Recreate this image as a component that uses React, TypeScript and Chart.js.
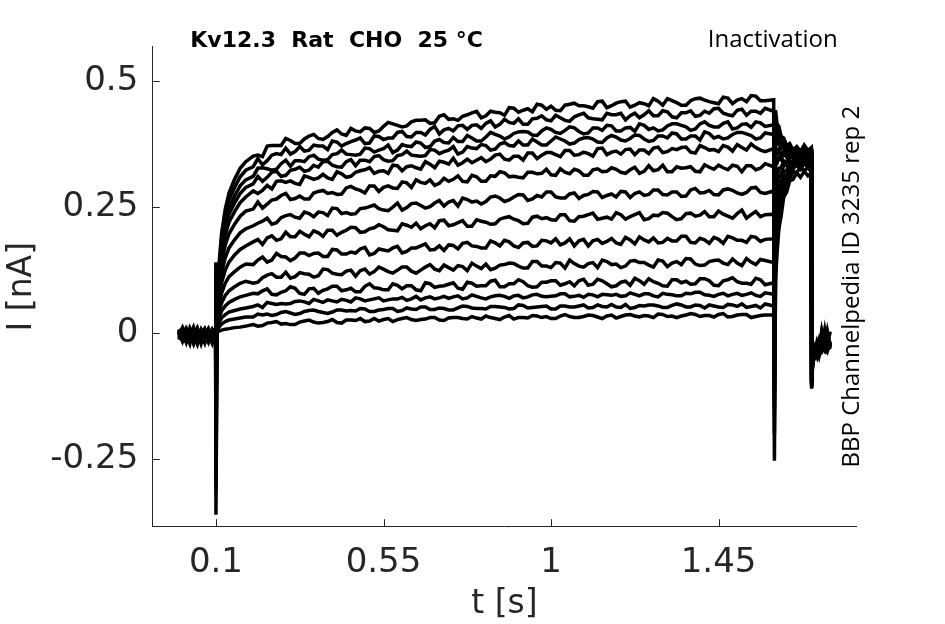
import React, { useEffect, useRef } from 'react';
import { Chart, registerables } from 'chart.js';

Chart.register(...registerables);

// sample times [s], shared by every sweep
const timeS = [
  0, 0.01, 0.02, 0.03, 0.04, 0.05, 0.06, 0.07, 0.08, 0.09, 0.099,
  0.1, 0.103, 0.108, 0.115, 0.125, 0.135, 0.15, 0.165, 0.18,
  0.2, 0.225, 0.25, 0.275, 0.3, 0.325, 0.35, 0.375, 0.4, 0.425, 0.45, 0.475, 0.5, 0.525,
  0.55, 0.575, 0.6, 0.625, 0.65, 0.675, 0.7, 0.725, 0.75, 0.775, 0.8, 0.825, 0.85, 0.875,
  0.9, 0.925, 0.95, 0.975, 1.0, 1.025, 1.05, 1.075, 1.1, 1.125, 1.15, 1.175, 1.2, 1.225,
  1.25, 1.275, 1.3, 1.325, 1.35, 1.375, 1.4, 1.425, 1.45, 1.475, 1.5, 1.525, 1.55, 1.575,
  1.598, 1.6, 1.603, 1.607, 1.612, 1.618, 1.625, 1.633, 1.641, 1.65, 1.66, 1.67, 1.68, 1.69, 1.699,
  1.7, 1.703, 1.708, 1.714, 1.72, 1.727, 1.735, 1.742, 1.75,
];

// extra samples between the plateau samples above
const midTimes = [
  0.2125, 0.2375, 0.2625, 0.2875, 0.3125, 0.3375, 0.3625, 0.3875, 0.4125, 0.4375, 0.4625,
  0.4875, 0.5125, 0.5375, 0.5625, 0.5875, 0.6125, 0.6375, 0.6625, 0.6875, 0.7125, 0.7375,
  0.7625, 0.7875, 0.8125, 0.8375, 0.8625, 0.8875, 0.9125, 0.9375, 0.9625, 0.9875, 1.0125,
  1.0375, 1.0625, 1.0875, 1.1125, 1.1375, 1.1625, 1.1875, 1.2125, 1.2375, 1.2625, 1.2875,
  1.3125, 1.3375, 1.3625, 1.3875, 1.4125, 1.4375, 1.4625, 1.4875, 1.5125, 1.5375, 1.5625,
];

// current [nA] per sweep
const sweep01 = [
  -0.004, 0.006, -0.014, 0.002, -0.019, 0.008, -0.009, -0.001, -0.016, 0.004, 0.002,
  -0.36, 0.002, 0.004, 0.006, 0.008, 0.009, 0.011, 0.012, 0.014,
  0.017, 0.015, 0.021, 0.018, 0.017, 0.022, 0.026, 0.02, 0.023, 0.021, 0.026, 0.025, 0.023, 0.029,
  0.027, 0.023, 0.029, 0.027, 0.027, 0.031, 0.026, 0.03, 0.031, 0.028, 0.03, 0.034, 0.029, 0.032,
  0.028, 0.031, 0.035, 0.031, 0.029, 0.034, 0.033, 0.031, 0.036, 0.032, 0.034, 0.03, 0.036, 0.034,
  0.035, 0.031, 0.037, 0.034, 0.034, 0.039, 0.033, 0.035, 0.037, 0.032, 0.036, 0.037, 0.033, 0.036,
  0.036, -0.253, 0.105, 0.158, 0.207, 0.232, 0.27, 0.28, 0.302, 0.305, 0.318, 0.309, 0.321, 0.312, 0.317,
  -0.108, -0.048, -0.03, -0.041, -0.022, -0.035, -0.018, -0.03, -0.02,
];
const sweep01Mid = [
  0.014, 0.02, 0.023, 0.019, 0.017, 0.024, 0.022, 0.021, 0.027, 0.02, 0.026, 0.029, 0.024, 0.024,
  0.029, 0.027, 0.031, 0.025, 0.028, 0.031, 0.025, 0.031, 0.029, 0.033, 0.028, 0.031, 0.027, 0.035,
  0.031, 0.03, 0.034, 0.033, 0.029, 0.037, 0.031, 0.033, 0.035, 0.029, 0.036, 0.033, 0.037, 0.032,
  0.034, 0.038, 0.033, 0.031, 0.036, 0.037, 0.035, 0.032, 0.039, 0.033, 0.037, 0.031, 0.035,
];
const sweep02 = [
  0.003, -0.012, 0.009, -0.006, -0.02, 0.001, 0.007, -0.015, -0.003, -0.011, -0.006,
  -0.31, 0.005, 0.012, 0.018, 0.023, 0.026, 0.028, 0.03, 0.032,
  0.032, 0.036, 0.035, 0.041, 0.04, 0.039, 0.045, 0.043, 0.039, 0.046, 0.044, 0.044, 0.048, 0.043,
  0.047, 0.049, 0.045, 0.048, 0.052, 0.047, 0.05, 0.046, 0.05, 0.053, 0.049, 0.048, 0.053, 0.051,
  0.049, 0.055, 0.051, 0.053, 0.048, 0.054, 0.052, 0.054, 0.05, 0.056, 0.052, 0.052, 0.057, 0.051,
  0.054, 0.056, 0.051, 0.055, 0.056, 0.052, 0.055, 0.056, 0.052, 0.057, 0.053, 0.051, 0.055, 0.058,
  0.054, -0.2, 0.12, 0.181, 0.213, 0.254, 0.272, 0.299, 0.305, 0.321, 0.318, 0.33, 0.322, 0.328, 0.32,
  -0.104, -0.04, -0.046, -0.02, -0.036, 0.002, -0.029, -0.022, -0.032,
];
const sweep02Mid = [
  0.038, 0.038, 0.037, 0.043, 0.037, 0.043, 0.046, 0.041, 0.042, 0.046, 0.045, 0.049, 0.043, 0.046,
  0.049, 0.043, 0.05, 0.047, 0.052, 0.047, 0.049, 0.046, 0.054, 0.05, 0.049, 0.053, 0.052, 0.048,
  0.056, 0.05, 0.052, 0.054, 0.048, 0.054, 0.052, 0.056, 0.051, 0.053, 0.057, 0.051, 0.049, 0.055,
  0.056, 0.054, 0.051, 0.058, 0.052, 0.056, 0.05, 0.054, 0.051, 0.056, 0.058, 0.053, 0.05,
];
const sweep03 = [
  -0.01, 0.001, -0.018, 0.01, -0.005, -0.022, 0.003, 0.006, -0.012, 0.0, 0.004,
  -0.24, 0.008, 0.02, 0.03, 0.037, 0.042, 0.045, 0.048, 0.05,
  0.053, 0.051, 0.059, 0.059, 0.059, 0.064, 0.059, 0.064, 0.066, 0.062, 0.065, 0.07, 0.064, 0.068,
  0.064, 0.068, 0.071, 0.068, 0.066, 0.072, 0.07, 0.069, 0.074, 0.07, 0.073, 0.068, 0.074, 0.073,
  0.074, 0.07, 0.076, 0.073, 0.073, 0.078, 0.072, 0.075, 0.077, 0.072, 0.076, 0.077, 0.074, 0.077,
  0.078, 0.074, 0.079, 0.076, 0.074, 0.078, 0.081, 0.075, 0.077, 0.074, 0.079, 0.077, 0.075, 0.08,
  0.077, -0.15, 0.138, 0.195, 0.226, 0.262, 0.281, 0.306, 0.311, 0.326, 0.334, 0.325, 0.337, 0.328, 0.333,
  -0.1, -0.052, -0.028, -0.038, -0.015, -0.031, -0.024, 0.001, -0.027,
];
const sweep03Mid = [
  0.056, 0.061, 0.057, 0.058, 0.063, 0.062, 0.067, 0.061, 0.064, 0.067, 0.062, 0.068, 0.066, 0.07,
  0.066, 0.068, 0.065, 0.073, 0.07, 0.068, 0.073, 0.072, 0.068, 0.076, 0.07, 0.072, 0.075, 0.069,
  0.075, 0.072, 0.077, 0.072, 0.074, 0.078, 0.073, 0.071, 0.076, 0.077, 0.075, 0.073, 0.08, 0.074,
  0.078, 0.072, 0.077, 0.074, 0.079, 0.081, 0.076, 0.073, 0.079, 0.077, 0.075, 0.08, 0.073,
];
const sweep04 = [
  0.002, -0.016, 0.005, -0.008, 0.011, -0.013, -0.004, -0.019, 0.004, -0.007, 0.006,
  -0.16, 0.012, 0.03, 0.044, 0.054, 0.061, 0.067, 0.072, 0.075,
  0.079, 0.084, 0.077, 0.081, 0.092, 0.079, 0.088, 0.079, 0.088, 0.093, 0.086, 0.082, 0.093, 0.09,
  0.086, 0.098, 0.088, 0.094, 0.084, 0.098, 0.093, 0.097, 0.089, 0.101, 0.093, 0.094, 0.105, 0.092,
  0.098, 0.102, 0.091, 0.101, 0.104, 0.095, 0.102, 0.104, 0.095, 0.107, 0.098, 0.094, 0.103, 0.109,
  0.097, 0.102, 0.094, 0.106, 0.1, 0.097, 0.108, 0.104, 0.094, 0.106, 0.102, 0.099, 0.109, 0.096,
  0.1, -0.12, 0.162, 0.202, 0.245, 0.266, 0.297, 0.305, 0.325, 0.331, 0.338, 0.33, 0.342, 0.333, 0.339,
  -0.097, -0.044, -0.039, -0.025, -0.042, -0.019, -0.027, -0.035, -0.016,
];
const sweep04Mid = [
  0.078, 0.088, 0.076, 0.084, 0.089, 0.077, 0.089, 0.085, 0.093, 0.084, 0.089, 0.082, 0.098, 0.089,
  0.086, 0.095, 0.094, 0.086, 0.1, 0.091, 0.094, 0.1, 0.087, 0.099, 0.094, 0.103, 0.092, 0.098,
  0.106, 0.094, 0.092, 0.101, 0.104, 0.098, 0.094, 0.107, 0.097, 0.104, 0.092, 0.101, 0.095, 0.104,
  0.108, 0.099, 0.093, 0.106, 0.103, 0.098, 0.108, 0.095, 0.104, 0.11, 0.099, 0.097, 0.106,
];
const sweep05 = [
  -0.007, 0.004, -0.002, -0.021, 0.009, -0.01, 0.002, -0.006, 0.008, -0.015, -0.012,
  -0.09, 0.016, 0.041, 0.06, 0.075, 0.084, 0.092, 0.099, 0.103,
  0.099, 0.11, 0.118, 0.111, 0.109, 0.12, 0.117, 0.114, 0.126, 0.117, 0.123, 0.113, 0.127, 0.122,
  0.127, 0.119, 0.131, 0.123, 0.125, 0.136, 0.124, 0.13, 0.134, 0.124, 0.133, 0.137, 0.129, 0.136,
  0.138, 0.129, 0.142, 0.133, 0.13, 0.139, 0.145, 0.133, 0.138, 0.13, 0.142, 0.137, 0.133, 0.144,
  0.14, 0.131, 0.143, 0.139, 0.136, 0.147, 0.134, 0.142, 0.145, 0.136, 0.139, 0.148, 0.136, 0.144,
  0.14, -0.07, 0.193, 0.226, 0.264, 0.281, 0.308, 0.314, 0.332, 0.337, 0.344, 0.335, 0.347, 0.338, 0.343,
  -0.095, -0.05, -0.031, -0.037, -0.016, -0.03, -0.021, 0.005, -0.026,
];
const sweep05Mid = [
  0.101, 0.115, 0.111, 0.121, 0.112, 0.118, 0.111, 0.127, 0.119, 0.116, 0.125, 0.124, 0.117, 0.131,
  0.122, 0.125, 0.131, 0.119, 0.131, 0.127, 0.135, 0.125, 0.132, 0.139, 0.128, 0.126, 0.135, 0.139,
  0.133, 0.129, 0.142, 0.133, 0.14, 0.129, 0.138, 0.131, 0.14, 0.145, 0.136, 0.13, 0.143, 0.14,
  0.135, 0.145, 0.132, 0.142, 0.148, 0.137, 0.135, 0.144, 0.139, 0.147, 0.134, 0.141, 0.146,
];
const sweep06 = [
  0.005, -0.009, -0.017, 0.003, -0.004, 0.01, -0.014, -0.002, -0.018, 0.005, -0.003,
  -0.03, 0.022, 0.054, 0.079, 0.099, 0.112, 0.122, 0.131, 0.137,
  0.136, 0.151, 0.145, 0.152, 0.144, 0.159, 0.154, 0.159, 0.152, 0.165, 0.157, 0.159, 0.17, 0.158,
  0.165, 0.169, 0.159, 0.169, 0.173, 0.165, 0.173, 0.175, 0.167, 0.18, 0.172, 0.169, 0.179, 0.184,
  0.173, 0.179, 0.172, 0.184, 0.179, 0.175, 0.187, 0.183, 0.173, 0.186, 0.182, 0.179, 0.19, 0.177,
  0.185, 0.189, 0.18, 0.183, 0.192, 0.18, 0.188, 0.178, 0.186, 0.192, 0.184, 0.18, 0.19, 0.186,
  0.187, -0.02, 0.229, 0.254, 0.285, 0.297, 0.32, 0.323, 0.339, 0.342, 0.349, 0.34, 0.352, 0.343, 0.348,
  -0.092, -0.045, -0.034, -0.02, -0.04, -0.025, -0.033, -0.014, -0.028,
];
const sweep06Mid = [
  0.145, 0.141, 0.158, 0.151, 0.149, 0.159, 0.158, 0.152, 0.166, 0.157, 0.161, 0.167, 0.155, 0.167,
  0.163, 0.172, 0.162, 0.169, 0.177, 0.166, 0.164, 0.174, 0.178, 0.173, 0.169, 0.183, 0.173, 0.181,
  0.17, 0.18, 0.173, 0.183, 0.187, 0.179, 0.173, 0.186, 0.183, 0.178, 0.188, 0.176, 0.185, 0.191,
  0.181, 0.179, 0.188, 0.183, 0.192, 0.179, 0.185, 0.19, 0.178, 0.189, 0.184, 0.192, 0.182,
];
const sweep07 = [
  -0.013, 0.001, 0.008, -0.011, 0.004, -0.019, -0.003, 0.009, -0.008, -0.001, -0.005,
  0.02, 0.027, 0.068, 0.1, 0.125, 0.141, 0.155, 0.166, 0.173,
  0.181, 0.176, 0.193, 0.187, 0.191, 0.202, 0.191, 0.199, 0.204, 0.194, 0.204, 0.209, 0.201, 0.209,
  0.211, 0.204, 0.217, 0.21, 0.207, 0.217, 0.223, 0.213, 0.219, 0.212, 0.225, 0.22, 0.217, 0.229,
  0.226, 0.217, 0.23, 0.227, 0.225, 0.235, 0.223, 0.231, 0.235, 0.226, 0.23, 0.239, 0.226, 0.235,
  0.225, 0.234, 0.239, 0.231, 0.227, 0.238, 0.234, 0.231, 0.242, 0.232, 0.237, 0.228, 0.241, 0.235,
  0.236, 0.03, 0.268, 0.283, 0.308, 0.315, 0.333, 0.333, 0.347, 0.35, 0.355, 0.346, 0.357, 0.348, 0.353,
  -0.09, -0.053, -0.03, -0.043, -0.018, -0.029, -0.036, -0.02, -0.031,
];
const sweep07Mid = [
  0.186, 0.189, 0.184, 0.2, 0.191, 0.196, 0.203, 0.192, 0.204, 0.2, 0.21, 0.2, 0.207, 0.215,
  0.205, 0.203, 0.214, 0.218, 0.213, 0.209, 0.224, 0.215, 0.223, 0.212, 0.222, 0.216, 0.226, 0.231,
  0.223, 0.218, 0.232, 0.229, 0.224, 0.235, 0.222, 0.232, 0.238, 0.228, 0.226, 0.235, 0.231, 0.239,
  0.227, 0.233, 0.238, 0.225, 0.237, 0.232, 0.241, 0.231, 0.236, 0.228, 0.244, 0.235, 0.231,
];
const sweep08 = [
  0.008, -0.006, -0.012, 0.005, -0.02, -0.001, 0.006, -0.014, 0.002, -0.009, -0.014,
  0.06, 0.033, 0.082, 0.12, 0.15, 0.169, 0.185, 0.199, 0.207,
  0.213, 0.222, 0.216, 0.229, 0.235, 0.228, 0.237, 0.24, 0.233, 0.247, 0.239, 0.237, 0.248, 0.254,
  0.244, 0.25, 0.244, 0.257, 0.253, 0.251, 0.263, 0.26, 0.252, 0.265, 0.262, 0.261, 0.272, 0.261,
  0.27, 0.274, 0.266, 0.27, 0.28, 0.268, 0.276, 0.267, 0.275, 0.28, 0.273, 0.27, 0.28, 0.277,
  0.273, 0.284, 0.275, 0.28, 0.271, 0.284, 0.278, 0.283, 0.274, 0.286, 0.278, 0.279, 0.289, 0.277,
  0.282, 0.08, 0.302, 0.309, 0.327, 0.328, 0.342, 0.339, 0.35, 0.351, 0.356, 0.345, 0.358, 0.349, 0.352,
  -0.094, -0.046, -0.038, -0.023, -0.033, 0.004, -0.028, -0.024, -0.019,
];
const sweep08Mid = [
  0.218, 0.228, 0.219, 0.233, 0.23, 0.24, 0.231, 0.239, 0.248, 0.237, 0.236, 0.247, 0.251, 0.247,
  0.243, 0.258, 0.249, 0.258, 0.248, 0.258, 0.252, 0.263, 0.268, 0.26, 0.256, 0.27, 0.268, 0.264,
  0.275, 0.263, 0.273, 0.28, 0.27, 0.268, 0.278, 0.273, 0.281, 0.269, 0.276, 0.281, 0.269, 0.28,
  0.275, 0.284, 0.274, 0.28, 0.272, 0.287, 0.279, 0.275, 0.284, 0.283, 0.275, 0.288, 0.279,
];
const sweep09 = [
  -0.002, 0.009, -0.011, -0.004, 0.003, -0.017, 0.007, -0.008, -0.013, 0.006, -0.01,
  0.1, 0.038, 0.095, 0.14, 0.175, 0.197, 0.216, 0.232, 0.242,
  0.246, 0.248, 0.264, 0.273, 0.265, 0.272, 0.266, 0.281, 0.277, 0.275, 0.288, 0.286, 0.278, 0.292,
  0.289, 0.288, 0.3, 0.289, 0.299, 0.304, 0.297, 0.301, 0.312, 0.3, 0.31, 0.301, 0.311, 0.318,
  0.311, 0.308, 0.319, 0.317, 0.314, 0.326, 0.316, 0.322, 0.313, 0.326, 0.321, 0.325, 0.317, 0.329,
  0.321, 0.322, 0.333, 0.32, 0.327, 0.33, 0.32, 0.329, 0.333, 0.324, 0.331, 0.332, 0.324, 0.336,
  0.33, 0.12, 0.338, 0.337, 0.349, 0.344, 0.356, 0.349, 0.359, 0.352, 0.361, 0.35, 0.36, 0.353, 0.358,
  -0.096, -0.043, -0.035, -0.029, -0.045, -0.021, -0.032, -0.017, -0.025,
];
const sweep09Mid = [
  0.26, 0.256, 0.266, 0.277, 0.267, 0.266, 0.278, 0.283, 0.279, 0.276, 0.291, 0.283, 0.292, 0.281,
  0.292, 0.287, 0.298, 0.304, 0.297, 0.293, 0.307, 0.305, 0.301, 0.313, 0.301, 0.312, 0.32, 0.31,
  0.309, 0.319, 0.316, 0.325, 0.313, 0.319, 0.325, 0.313, 0.324, 0.32, 0.328, 0.319, 0.324, 0.317,
  0.332, 0.324, 0.32, 0.33, 0.328, 0.321, 0.334, 0.325, 0.328, 0.333, 0.32, 0.332, 0.327,
];
const sweep10 = [
  0.004, -0.015, 0.002, 0.007, -0.009, 0.001, -0.021, 0.004, -0.005, 0.008, 0.001,
  0.14, 0.043, 0.107, 0.156, 0.195, 0.22, 0.241, 0.259, 0.27,
  0.282, 0.283, 0.286, 0.302, 0.302, 0.295, 0.309, 0.308, 0.308, 0.32, 0.309, 0.319, 0.324, 0.317,
  0.322, 0.333, 0.322, 0.332, 0.325, 0.335, 0.341, 0.335, 0.333, 0.345, 0.343, 0.34, 0.353, 0.345,
  0.351, 0.343, 0.357, 0.353, 0.358, 0.35, 0.362, 0.354, 0.356, 0.366, 0.354, 0.361, 0.364, 0.354,
  0.363, 0.367, 0.358, 0.366, 0.368, 0.359, 0.372, 0.363, 0.36, 0.369, 0.374, 0.363, 0.368, 0.36,
  0.366, 0.15, 0.367, 0.357, 0.364, 0.353, 0.361, 0.352, 0.36, 0.351, 0.359, 0.35, 0.362, 0.352, 0.357,
  -0.11, -0.05, -0.03, -0.039, -0.024, -0.034, -0.015, -0.029, -0.022,
];
const sweep10Mid = [
  0.277, 0.293, 0.301, 0.299, 0.297, 0.312, 0.305, 0.315, 0.305, 0.316, 0.311, 0.322, 0.328, 0.321,
  0.317, 0.332, 0.33, 0.328, 0.34, 0.328, 0.339, 0.347, 0.338, 0.338, 0.348, 0.345, 0.355, 0.343,
  0.351, 0.357, 0.346, 0.358, 0.354, 0.362, 0.353, 0.359, 0.351, 0.367, 0.359, 0.355, 0.365, 0.363,
  0.356, 0.369, 0.36, 0.364, 0.369, 0.357, 0.368, 0.364, 0.372, 0.361, 0.368, 0.375, 0.363,
];
const sweep11 = [
  -0.009, 0.003, 0.01, -0.014, 0.0, -0.006, 0.005, -0.018, 0.006, -0.011, -0.006,
  0.1, 0.046, 0.114, 0.167, 0.209, 0.236, 0.258, 0.277, 0.289,
  0.296, 0.301, 0.319, 0.311, 0.323, 0.329, 0.323, 0.329, 0.341, 0.33, 0.34, 0.332, 0.343, 0.35,
  0.344, 0.342, 0.354, 0.353, 0.351, 0.364, 0.356, 0.363, 0.355, 0.37, 0.366, 0.372, 0.365, 0.378,
  0.371, 0.373, 0.385, 0.373, 0.381, 0.385, 0.375, 0.384, 0.388, 0.379, 0.387, 0.389, 0.381, 0.393,
  0.385, 0.382, 0.391, 0.397, 0.385, 0.391, 0.383, 0.396, 0.39, 0.387, 0.398, 0.395, 0.385, 0.397,
  0.394, 0.16, 0.389, 0.375, 0.378, 0.366, 0.37, 0.359, 0.367, 0.357, 0.364, 0.355, 0.366, 0.356, 0.362,
  -0.1, -0.044, -0.037, -0.021, -0.04, -0.028, 0.006, -0.03, -0.023,
];
const sweep11Mid = [
  0.311, 0.309, 0.321, 0.313, 0.325, 0.321, 0.333, 0.34, 0.333, 0.329, 0.344, 0.343, 0.34, 0.352,
  0.341, 0.352, 0.361, 0.352, 0.352, 0.363, 0.36, 0.37, 0.359, 0.367, 0.374, 0.363, 0.375, 0.372,
  0.381, 0.373, 0.379, 0.373, 0.389, 0.381, 0.377, 0.387, 0.385, 0.378, 0.392, 0.383, 0.386, 0.392,
  0.38, 0.391, 0.387, 0.395, 0.385, 0.391, 0.399, 0.387, 0.385, 0.394, 0.398, 0.392, 0.387,
];
const sweep12 = [
  0.001, -0.007, -0.016, 0.006, 0.009, -0.012, -0.001, 0.003, -0.017, -0.004, -0.002,
  0.12, 0.048, 0.12, 0.176, 0.22, 0.248, 0.272, 0.292, 0.304,
  0.311, 0.328, 0.323, 0.336, 0.331, 0.342, 0.35, 0.345, 0.344, 0.356, 0.355, 0.353, 0.367, 0.359,
  0.366, 0.358, 0.374, 0.37, 0.377, 0.37, 0.384, 0.377, 0.38, 0.392, 0.381, 0.389, 0.394, 0.385,
  0.396, 0.4, 0.393, 0.401, 0.404, 0.396, 0.409, 0.4, 0.397, 0.407, 0.412, 0.401, 0.407, 0.4,
  0.412, 0.407, 0.403, 0.415, 0.412, 0.402, 0.415, 0.412, 0.409, 0.419, 0.407, 0.415, 0.419, 0.41,
  0.413, 0.13, 0.403, 0.386, 0.386, 0.371, 0.374, 0.361, 0.369, 0.358, 0.366, 0.356, 0.368, 0.357, 0.363,
  -0.104, -0.048, -0.032, -0.045, -0.02, -0.03, -0.025, -0.036, -0.018,
];
const sweep12Mid = [
  0.327, 0.326, 0.325, 0.343, 0.342, 0.34, 0.353, 0.343, 0.354, 0.363, 0.354, 0.355, 0.366, 0.363,
  0.373, 0.363, 0.371, 0.379, 0.368, 0.381, 0.378, 0.388, 0.38, 0.387, 0.381, 0.398, 0.391, 0.389,
  0.399, 0.399, 0.392, 0.407, 0.398, 0.402, 0.407, 0.395, 0.407, 0.402, 0.411, 0.401, 0.408, 0.415,
  0.404, 0.401, 0.411, 0.415, 0.409, 0.405, 0.419, 0.409, 0.416, 0.405, 0.414, 0.408, 0.417,
];
const sweep13 = [
  0.006, -0.012, 0.004, -0.008, -0.015, 0.003, -0.01, 0.007, -0.003, -0.02, 0.003,
  0.13, 0.051, 0.128, 0.187, 0.234, 0.264, 0.289, 0.31, 0.323,
  0.33, 0.334, 0.353, 0.354, 0.355, 0.37, 0.363, 0.371, 0.364, 0.379, 0.376, 0.383, 0.376, 0.391,
  0.384, 0.387, 0.4, 0.389, 0.398, 0.404, 0.395, 0.406, 0.411, 0.404, 0.413, 0.416, 0.409, 0.424,
  0.416, 0.414, 0.425, 0.431, 0.421, 0.427, 0.42, 0.433, 0.427, 0.424, 0.436, 0.433, 0.423, 0.436,
  0.433, 0.431, 0.441, 0.429, 0.437, 0.441, 0.432, 0.436, 0.446, 0.433, 0.442, 0.432, 0.44, 0.446,
  0.44, 0.14, 0.423, 0.401, 0.397, 0.379, 0.38, 0.366, 0.372, 0.36, 0.368, 0.357, 0.37, 0.359, 0.365,
  -0.098, -0.041, -0.035, -0.027, -0.038, -0.016, -0.031, -0.022, 0.003,
];
const sweep13Mid = [
  0.346, 0.342, 0.356, 0.367, 0.36, 0.361, 0.373, 0.371, 0.381, 0.371, 0.38, 0.387, 0.377, 0.39,
  0.387, 0.398, 0.39, 0.398, 0.393, 0.41, 0.403, 0.401, 0.412, 0.412, 0.406, 0.421, 0.414, 0.418,
  0.425, 0.414, 0.426, 0.423, 0.432, 0.422, 0.429, 0.436, 0.425, 0.423, 0.433, 0.436, 0.431, 0.427,
  0.441, 0.431, 0.439, 0.427, 0.437, 0.43, 0.44, 0.445, 0.436, 0.431, 0.444, 0.44, 0.436,
];
const sweep14 = [
  -0.004, 0.011, -0.009, 0.0, 0.005, -0.016, 0.002, -0.011, 0.008, -0.006, -0.013,
  0.14, 0.054, 0.134, 0.197, 0.246, 0.278, 0.305, 0.327, 0.34,
  0.351, 0.35, 0.372, 0.372, 0.382, 0.376, 0.391, 0.386, 0.39, 0.403, 0.392, 0.401, 0.407, 0.398,
  0.41, 0.415, 0.409, 0.419, 0.422, 0.416, 0.43, 0.424, 0.422, 0.433, 0.44, 0.431, 0.438, 0.432,
  0.446, 0.442, 0.439, 0.452, 0.45, 0.441, 0.454, 0.451, 0.449, 0.459, 0.447, 0.456, 0.46, 0.452,
  0.455, 0.465, 0.452, 0.461, 0.452, 0.461, 0.466, 0.459, 0.455, 0.466, 0.462, 0.459, 0.47, 0.461,
  0.463, 0.1, 0.442, 0.415, 0.41, 0.39, 0.387, 0.372, 0.376, 0.363, 0.37, 0.36, 0.373, 0.362, 0.368,
  -0.102, -0.046, -0.033, -0.024, -0.042, -0.027, -0.019, -0.034, -0.021,
];
const sweep14Mid = [
  0.353, 0.371, 0.372, 0.386, 0.376, 0.385, 0.394, 0.384, 0.398, 0.395, 0.406, 0.399, 0.406, 0.401,
  0.418, 0.412, 0.411, 0.422, 0.423, 0.417, 0.433, 0.425, 0.43, 0.437, 0.427, 0.44, 0.437, 0.447,
  0.438, 0.445, 0.454, 0.444, 0.442, 0.452, 0.456, 0.451, 0.446, 0.46, 0.451, 0.459, 0.448, 0.457,
  0.451, 0.46, 0.465, 0.457, 0.452, 0.465, 0.462, 0.457, 0.468, 0.455, 0.465, 0.471, 0.461,
];

const sweeps = [
  [sweep01, sweep01Mid], [sweep02, sweep02Mid], [sweep03, sweep03Mid], [sweep04, sweep04Mid],
  [sweep05, sweep05Mid], [sweep06, sweep06Mid], [sweep07, sweep07Mid], [sweep08, sweep08Mid],
  [sweep09, sweep09Mid], [sweep10, sweep10Mid], [sweep11, sweep11Mid], [sweep12, sweep12Mid],
  [sweep13, sweep13Mid], [sweep14, sweep14Mid],
];

const xTicks = [0.1, 0.55, 1, 1.45];
const xTickLabels = ['0.1', '0.55', '1', '1.45'];
const yTicks = [-0.25, 0, 0.25, 0.5];
const yTickLabels = ['-0.25', '0', '0.25', '0.5'];

const titleText = 'Kv12.3  Rat  CHO  25 °C';
const protocolText = 'Inactivation';
const sourceText = 'BBP Channelpedia ID 3235 rep 2';

const axisColor = '#262626';

// inward tick marks plus the labels around the axes
const decorations = {
  id: 'decorations',
  afterDraw(chart: any) {
    const { ctx, chartArea, scales } = chart;
    ctx.save();
    ctx.strokeStyle = axisColor;
    ctx.lineWidth = 1;
    ctx.beginPath();
    xTicks.forEach((v) => {
      const px = Math.round(scales.x.getPixelForValue(v)) + 0.5;
      ctx.moveTo(px, chartArea.bottom);
      ctx.lineTo(px, chartArea.bottom - 7.5);
    });
    yTicks.forEach((v) => {
      const py = Math.round(scales.y.getPixelForValue(v)) + 0.5;
      ctx.moveTo(chartArea.left, py);
      ctx.lineTo(chartArea.left + 7.5, py);
    });
    ctx.stroke();

    ctx.fillStyle = '#000';
    ctx.textBaseline = 'alphabetic';
    ctx.textAlign = 'left';
    ctx.font = 'bold 22px "DejaVu Sans"';
    ctx.fillText(titleText, chartArea.left + 38, chartArea.top);
    ctx.textAlign = 'right';
    ctx.font = '24px "Open Sans"';
    ctx.fillText(protocolText, chartArea.right - 19, chartArea.top);

    ctx.translate(chartArea.right + 2, (chartArea.top + chartArea.bottom) / 2);
    ctx.rotate(-Math.PI / 2);
    ctx.textAlign = 'center';
    ctx.fillText(sourceText, 0, 0);
    ctx.restore();
  },
};

const App: React.FC = () => {
  const canvasRef = useRef<HTMLCanvasElement>(null);

  useEffect(() => {
    document.body.style.margin = '0';
    if (!canvasRef.current) return;
    const ctx = canvasRef.current.getContext('2d');
    if (!ctx) return;

    const chart = new Chart(ctx, {
      type: 'line',
      data: {
        datasets: sweeps.map(([values, mids], n) => ({
          label: `sweep ${n + 1}`,
          data: [
            ...values.map((y, i) => ({ x: timeS[i], y })),
            ...mids.map((y, i) => ({ x: midTimes[i], y })),
          ].sort((a, b) => a.x - b.x),
          borderColor: '#000',
          borderWidth: 3.5,
          pointRadius: 0,
          tension: 0,
          fill: false,
        })),
      },
      options: {
        responsive: false,
        animation: false,
        layout: { padding: { left: 0, right: 88.3, top: 46.7, bottom: 0 } },
        plugins: {
          legend: { display: false },
          tooltip: { enabled: false },
        },
        scales: {
          x: {
            type: 'linear',
            min: -0.071,
            max: 1.821,
            grid: { display: false },
            border: { display: true, color: axisColor, width: 1 },
            afterFit: (scale: any) => {
              scale.height = 97.3;
            },
            afterBuildTicks: (scale: any) => {
              scale.ticks = xTicks.map((value) => ({ value }));
            },
            ticks: {
              autoSkip: false,
              maxRotation: 0,
              padding: 8,
              color: axisColor,
              font: { family: 'DejaVu Sans', size: 34 },
              callback: (_v: any, i: number) => xTickLabels[i],
            },
            title: {
              display: true,
              text: 't [s]',
              color: axisColor,
              padding: { top: 0, bottom: 0 },
              font: { family: 'DejaVu Sans', size: 33 },
            },
          },
          y: {
            type: 'linear',
            min: -0.3837,
            max: 0.568,
            grid: { display: false },
            border: { display: true, color: axisColor, width: 1 },
            afterFit: (scale: any) => {
              scale.width = 152.3;
            },
            afterBuildTicks: (scale: any) => {
              scale.ticks = yTicks.map((value) => ({ value }));
            },
            ticks: {
              autoSkip: false,
              padding: 6,
              color: axisColor,
              font: { family: 'DejaVu Sans', size: 34 },
              callback: (_v: any, i: number) => yTickLabels[i],
            },
            title: {
              display: true,
              text: 'I [nA]',
              color: axisColor,
              padding: { top: 3, bottom: 0 },
              font: { family: 'DejaVu Sans', size: 33 },
            },
          },
        },
      },
      plugins: [decorations],
    });

    return () => {
      chart.destroy();
    };
  }, []);

  return (
    <canvas
      ref={canvasRef}
      width={945}
      height={624}
      style={{ display: 'block', width: 945, height: 624 }}
    />
  );
};

export default App;
